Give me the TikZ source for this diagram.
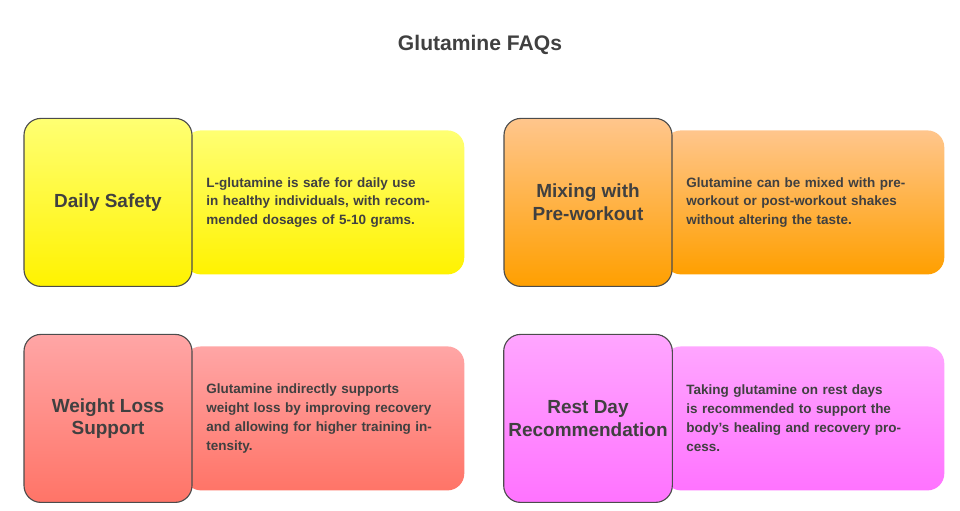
\documentclass[tikz,border=0pt]{standalone}
\usepackage{fontspec}
\setmainfont{Liberation Sans}
\usetikzlibrary{positioning}
\tikzset{
  keybox/.style={draw=black!70, thick, rounded corners=12pt, minimum width=4.2cm, minimum height=4.2cm,
                 font=\bfseries\fontsize{13.5}{16}\selectfont, text=black!75, align=center},
  infobox/.style={rounded corners=12pt, minimum width=6.8cm, minimum height=3.6cm, anchor=west,
                  font=\bfseries\fontsize{9.6}{13.4}\selectfont, text=black!75, align=left,
                  text width=5.9cm, inner xsep=0.55cm},
  yellowc/.style={top color=yellow!55!white, bottom color=yellow!90!orange},
  orangec/.style={top color=orange!45!white, bottom color=orange!75!yellow},
  redc/.style={top color=red!35!white, bottom color=red!55!white!90!orange},
  pinkc/.style={top color=magenta!35!white, bottom color=magenta!55!white},
}
\begin{document}
\begin{tikzpicture}
  \useasboundingbox (0,0) rectangle (24,-12.75);
  \node[font=\bfseries\fontsize{15}{18}\selectfont, text=black!75] (title) at (12,-1.12) {Glutamine FAQs};

  % top row
  \node[infobox, yellowc] (safetytext) at (4.6,-5.06) {L-glutamine is safe for daily use in healthy individuals, with recommended dosages of 5-10 grams.};
  \node[keybox, yellowc] (safety) at (2.7,-5.06) {Daily Safety};
  \node[infobox, orangec] (mixingtext) at (16.6,-5.06) {Glutamine can be mixed with pre-workout or post-workout shakes without altering the taste.};
  \node[keybox, orangec] (mixing) at (14.7,-5.06) {Mixing with\\Pre-workout};

  % bottom row
  \node[infobox, redc] (weighttext) at (4.6,-10.46) {Glutamine indirectly supports weight loss by improving recovery and allowing for higher training intensity.};
  \node[keybox, redc] (weight) at (2.7,-10.46) {Weight Loss\\Support};
  \node[infobox, pinkc] (resttext) at (16.6,-10.46) {Taking glutamine on rest days is recommended to support the body's healing and recovery process.};
  \node[keybox, pinkc] (rest) at (14.7,-10.46) {Rest Day\\Recommendation};
\end{tikzpicture}
\end{document}
